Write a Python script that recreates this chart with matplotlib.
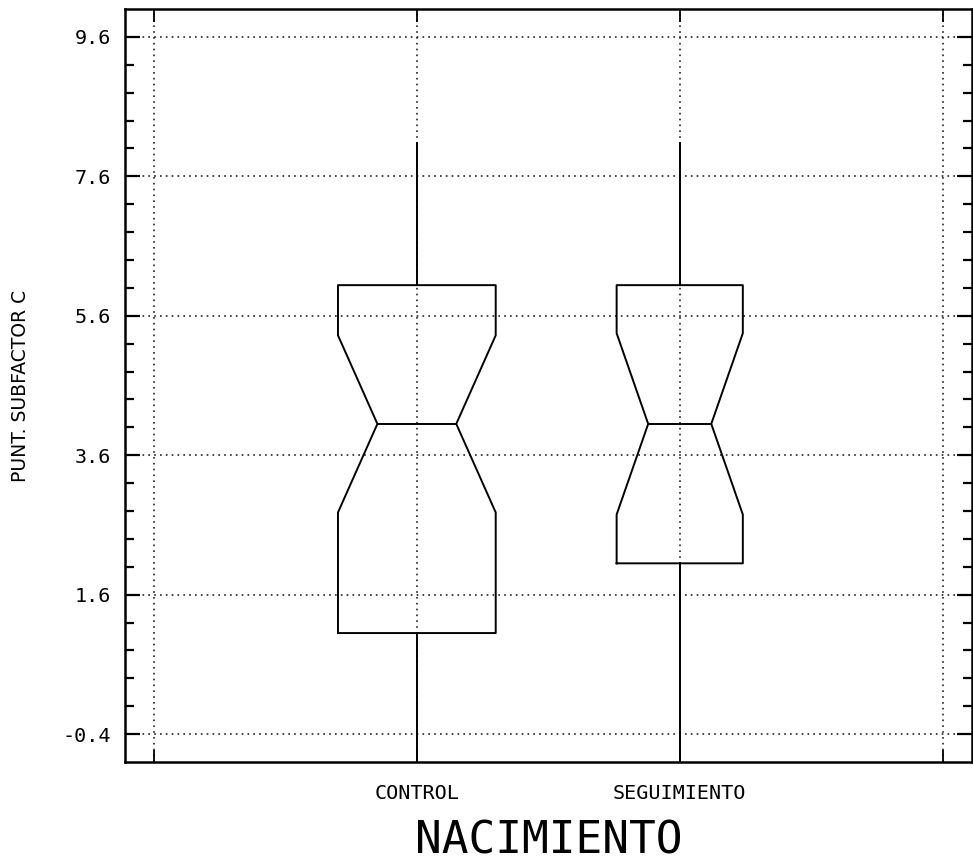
import numpy as np
import matplotlib
matplotlib.use('Agg')
import matplotlib.pyplot as plt
from matplotlib.ticker import FixedLocator

# data
groups = ['CONTROL', 'SEGUIMIENTO']
q1 = [1.05, 2.05]
med = [4.05, 4.05]
q3 = [6.04, 6.04]
ci_lo = [2.78, 2.75]
ci_hi = [5.32, 5.35]
whis_lo = [-0.8, -0.8]
whis_hi = [8.08, 8.08]
box_widths = [0.6, 0.48]

xtick_pos = [0, 1, 2, 3]
xtick_labels = ['', 'CONTROL', 'SEGUIMIENTO', '']
yticks = [-0.4, 1.6, 3.6, 5.6, 7.6, 9.6]

mono = 'DejaVu Sans Mono'

fig = plt.figure(figsize=(9.73, 8.63), dpi=100)
ax = fig.add_axes([0.1285, 0.117, 0.870, 0.8725])

stats = []
for i, g in enumerate(groups):
    stats.append(dict(label=g, med=med[i], q1=q1[i], q3=q3[i],
                      cilo=ci_lo[i], cihi=ci_hi[i],
                      whislo=whis_lo[i], whishi=whis_hi[i], fliers=[]))

line = dict(color='black', linewidth=1.4)
ax.bxp(stats, positions=[1, 2], widths=box_widths, shownotches=True,
       showcaps=False, showfliers=False, boxprops=line, whiskerprops=line,
       medianprops=line, zorder=3)

ax.set_xlim(-0.11, 3.11)
ax.set_ylim(-0.8, 10.0)

ax.xaxis.set_major_locator(FixedLocator(xtick_pos))
ax.set_xticklabels(xtick_labels, fontfamily=mono, fontsize=14.5)
ax.yaxis.set_major_locator(FixedLocator(yticks))
ax.set_yticklabels(['%.1f' % v for v in yticks], fontfamily=mono, fontsize=14.5)
ax.yaxis.set_minor_locator(FixedLocator(np.arange(-0.4, 10.0, 0.4)))

ax.tick_params(axis='y', which='major', direction='in', length=11, width=1.6,
               left=True, right=True, pad=10, color='black')
ax.tick_params(axis='y', which='minor', direction='in', length=6.5, width=1.6,
               left=True, right=True)
ax.tick_params(axis='x', which='major', direction='in', length=9, width=1.3,
               top=True, bottom=True, pad=16)

ax.grid(True, which='major', linestyle=(0, (1, 2.5)), linewidth=1.2,
        color='#222222', zorder=1)

for s in ax.spines.values():
    s.set_linewidth(1.8)

ax.set_xlabel('NACIMIENTO', fontfamily=mono, fontsize=32, labelpad=12)
ax.set_ylabel('PUNT. SUBFACTOR C', fontfamily='DejaVu Sans', fontsize=13.5)
ax.yaxis.set_label_coords(-0.112, 0.5)

fig.savefig('out.png', dpi=100)
